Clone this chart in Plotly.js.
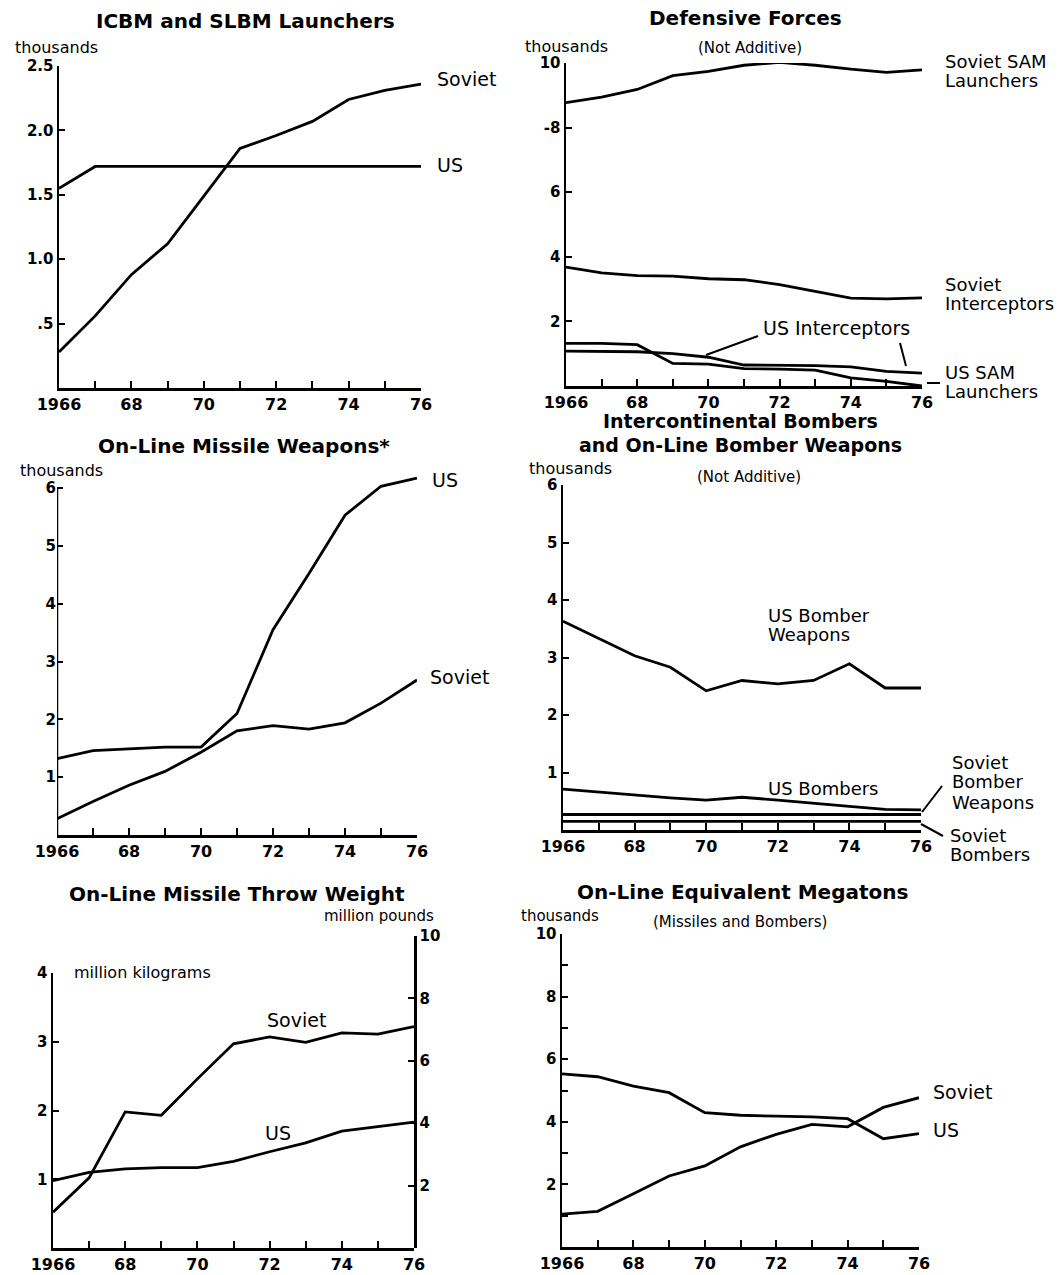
<!DOCTYPE html>
<html>
<head>
<meta charset="utf-8">
<script src="https://cdn.plot.ly/plotly-3.0.1.min.js"></script>
<style>html,body{margin:0;padding:0;background:#fff;}#chart{width:1061px;height:1275px;}</style>
</head>
<body>
<div id="chart"></div>
<script>
// ---------- DATA ----------
const years = [1966, 1967, 1968, 1969, 1970, 1971, 1972, 1973, 1974, 1975, 1976];
const xTickVals = [1966, 1967, 1968, 1969, 1970, 1971, 1972, 1973, 1974, 1975, 1976];
const xTickText = ['1966', '', '68', '', '70', '', '72', '', '74', '', '76'];

// ICBM and SLBM Launchers (thousands)
const launchSoviet = [0.28, 0.56, 0.88, 1.12, 1.49, 1.86, 1.96, 2.07, 2.24, 2.31, 2.36];
const launchUS     = [1.55, 1.72, 1.72, 1.72, 1.72, 1.72, 1.72, 1.72, 1.72, 1.72, 1.72];
const launchTickVals = [0.5, 1.0, 1.5, 2.0, 2.5];
const launchTickText = ['.5', '1.0', '1.5', '2.0', '2.5'];

// Defensive Forces (thousands)
const defSovietSAM  = [8.77, 8.94, 9.18, 9.61, 9.74, 9.93, 10.02, 9.93, 9.81, 9.71, 9.79];
const defSovietInt  = [3.68, 3.50, 3.42, 3.40, 3.32, 3.29, 3.14, 2.93, 2.72, 2.70, 2.73];
const defUSInt      = [1.08, 1.08, 1.06, 1.00, 0.89, 0.65, 0.65, 0.63, 0.59, 0.45, 0.40];
const defUSSAM      = [1.32, 1.32, 1.28, 0.70, 0.68, 0.54, 0.52, 0.49, 0.25, 0.14, 0.00];
const defTickVals = [2, 4, 6, 8, 10];
const defTickText = ['2', '4', '6', '-8', '10'];

// On-Line Missile Weapons (thousands)
const mwUS     = [1.32, 1.46, 1.49, 1.52, 1.52, 2.10, 3.55, 4.52, 5.53, 6.03, 6.17];
const mwSoviet = [0.28, 0.58, 0.86, 1.10, 1.43, 1.80, 1.89, 1.83, 1.94, 2.28, 2.68];
const sixTickVals = [1, 2, 3, 4, 5, 6];
const sixTickText = ['1', '2', '3', '4', '5', '6'];

// Intercontinental Bombers and On-Line Bomber Weapons (thousands)
const bwUS        = [3.63, 3.33, 3.03, 2.83, 2.42, 2.60, 2.54, 2.60, 2.89, 2.47, 2.47];
const bUS         = [0.71, 0.66, 0.60, 0.56, 0.52, 0.57, 0.52, 0.46, 0.41, 0.36, 0.35];
const bwSoviet    = [0.27, 0.27, 0.27, 0.27, 0.27, 0.27, 0.27, 0.27, 0.27, 0.27, 0.27];
const bSoviet     = [0.15, 0.15, 0.15, 0.15, 0.15, 0.15, 0.15, 0.15, 0.15, 0.15, 0.15];

// On-Line Missile Throw Weight (million kilograms)
const twSoviet = [0.52, 1.02, 1.98, 1.93, 2.46, 2.97, 3.07, 2.99, 3.13, 3.11, 3.22];
const twUS     = [0.98, 1.10, 1.15, 1.17, 1.17, 1.26, 1.40, 1.53, 1.70, 1.77, 1.83];
const kgTickVals = [1, 2, 3, 4];
const kgTickText = ['1', '2', '3', '4'];
const lbTickVals = [2, 4, 6, 8, 10];
const lbTickText = ['2', '4', '6', '8', '10'];

// On-Line Equivalent Megatons (thousands)
const emtUS     = [5.53, 5.44, 5.14, 4.93, 4.29, 4.21, 4.18, 4.16, 4.10, 3.46, 3.62];
const emtSoviet = [1.05, 1.14, 1.70, 2.27, 2.59, 3.20, 3.60, 3.92, 3.84, 4.46, 4.77];
const emtTickVals = [1, 2, 3, 4, 5, 6, 7, 8, 9, 10];
const emtTickText = ['', '2', '', '4', '', '6', '', '8', '', '10'];

// ---------- LAYOUT HELPERS ----------
const W = 1061, H = 1275;
const FONT = 'DejaVu Sans, sans-serif';
const px = v => v / W;
const py = v => 1 - v / H;
const LW = 2.8;

function line(x, y, xa, ya) {
  return { x: x, y: y, xaxis: xa, yaxis: ya, type: 'scatter', mode: 'lines',
           line: { color: '#000', width: LW }, cliponaxis: false, hoverinfo: 'skip', showlegend: false };
}

function xAxis(left, right, anchor) {
  return { domain: [px(left), px(right)], range: [1966, 1976], anchor: anchor,
           showline: true, linecolor: '#000', linewidth: 2.5, showgrid: false, zeroline: false,
           ticks: 'inside', ticklen: 7, tickwidth: 2, tickcolor: '#000',
           tickmode: 'array', tickvals: xTickVals, ticktext: xTickText,
           tickfont: { family: FONT, size: 16, color: '#000', weight: 'bold' }, fixedrange: true };
}
function yAxis(bottom, top, range, vals, text, anchor, side) {
  return { domain: [py(bottom), py(top)], range: range, anchor: anchor, side: side || 'left',
           showline: true, linecolor: '#000', linewidth: 2.5, showgrid: false, zeroline: false,
           ticks: 'inside', ticklen: 6, tickwidth: 2, tickcolor: '#000',
           tickmode: 'array', tickvals: vals, ticktext: text,
           tickfont: { family: FONT, size: 15, color: '#000', weight: 'bold' }, fixedrange: true };
}

const annotations = [];
function txt(text, x, y, size, bold, xa) {
  annotations.push({ text: text, x: px(x), y: py(y), xref: 'paper', yref: 'paper',
    xanchor: xa || 'left', yanchor: 'middle', showarrow: false,
    font: { family: FONT, size: size, color: '#000', weight: bold ? 'bold' : 'normal' } });
}
function lines(arr, x, y0, pitch, size, bold, xa) {
  arr.forEach((t, i) => txt(t, x, y0 + i * pitch, size, bold, xa));
}
const shapes = [];
function seg(x0, y0, x1, y1) {
  shapes.push({ type: 'line', xref: 'paper', yref: 'paper', x0: px(x0), y0: py(y0), x1: px(x1), y1: py(y1),
                line: { color: '#000', width: 2 } });
}

// ---------- TRACES ----------
const data = [
  line(years, launchSoviet, 'x', 'y'),
  line(years, launchUS, 'x', 'y'),
  line(years, defSovietSAM, 'x2', 'y2'),
  line(years, defSovietInt, 'x2', 'y2'),
  line(years, defUSInt, 'x2', 'y2'),
  line(years, defUSSAM, 'x2', 'y2'),
  line(years, mwUS, 'x3', 'y3'),
  line(years, mwSoviet, 'x3', 'y3'),
  line(years, bwUS, 'x4', 'y4'),
  line(years, bUS, 'x4', 'y4'),
  line(years, bwSoviet, 'x4', 'y4'),
  line(years, bSoviet, 'x4', 'y4'),
  line(years, twSoviet, 'x5', 'y5'),
  line(years, twUS, 'x5', 'y5'),
  line(years, emtUS, 'x6', 'y6'),
  line(years, emtSoviet, 'x6', 'y6'),
  { x: [1966], y: [0], xaxis: 'x5', yaxis: 'y7', type: 'scatter', mode: 'markers',
    marker: { opacity: 0 }, hoverinfo: 'skip', showlegend: false }
];

// ---------- TEXT ----------
const TT = 20, LB = 18, SM = 16, PITCH = 19;
txt('ICBM and SLBM Launchers', 245, 21, TT, true, 'center');
txt('thousands', 13, 47, SM, false);
txt('Soviet', 435, 79, 19, false);
txt('US', 435, 165, 19, false);

txt('Defensive Forces', 745, 18, TT, true, 'center');
txt('thousands', 523, 46, SM, false);
txt('(Not Additive)', 750, 48, 15, false, 'center');
lines(['Soviet SAM', 'Launchers'], 943, 61, PITCH, LB, false);
lines(['Soviet', 'Interceptors'], 943, 284, PITCH, LB, false);
txt('US Interceptors', 761, 328, 19, false);
lines(['US SAM', 'Launchers'], 943, 373, PITCH, LB, false);
seg(706, 355, 758, 336);
seg(900, 343, 906, 366);
seg(927, 383, 940, 383);

txt('On-Line Missile Weapons*', 244, 446, TT, true, 'center');
txt('thousands', 18, 470, SM, false);
txt('US', 430, 480, 19, false);
txt('Soviet', 428, 677, 19, false);

txt('Intercontinental Bombers', 740, 421, 19, true, 'center');
txt('and On-Line Bomber Weapons', 740, 445, 19, true, 'center');
txt('thousands', 527, 468, SM, false);
txt('(Not Additive)', 749, 477, 15, false, 'center');
lines(['US Bomber', 'Weapons'], 766, 615, PITCH, LB, false);
txt('US Bombers', 766, 789, LB, false);
lines(['Soviet', 'Bomber', 'Weapons'], 950, 762, 20, LB, false);
lines(['Soviet', 'Bombers'], 948, 835, PITCH, LB, false);
seg(922, 812, 942, 786);
seg(921, 824, 943, 836);

txt('On-Line Missile Throw Weight', 237, 894, TT, true, 'center');
txt('million pounds', 322, 916, 15, false);
txt('million kilograms', 72, 972, 16, false);
txt('Soviet', 265, 1020, 19, false);
txt('US', 263, 1133, 19, false);

txt('On-Line Equivalent Megatons', 742, 892, TT, true, 'center');
txt('thousands', 519, 916, 15, false);
txt('(Missiles and Bombers)', 740, 922, 15, false, 'center');
txt('Soviet', 931, 1092, 19, false);
txt('US', 931, 1130, 19, false);

// ---------- LAYOUT ----------
// Missile-weapons panel: the axis line stops at 6 while the US line may rise above it
const y3 = yAxis(835, 835 - 6.3 * (835 - 488) / 6, [0, 6.3], sixTickVals, sixTickText, 'x3');
y3.showline = false;
shapes.push({ type: 'line', xref: 'x3', yref: 'y3', x0: 1966, x1: 1966, y0: 0, y1: 6,
              line: { color: '#000', width: 2.5 } });

const layout = {
  width: W, height: H, margin: { l: 0, r: 0, t: 0, b: 0 },
  paper_bgcolor: '#fff', plot_bgcolor: 'rgba(0,0,0,0)', showlegend: false,
  font: { family: FONT, color: '#000' },
  xaxis:  xAxis(59, 421, 'y'),
  yaxis:  yAxis(388, 66, [0, 2.5], launchTickVals, launchTickText, 'x'),
  xaxis2: xAxis(566, 922, 'y2'),
  yaxis2: yAxis(386, 63, [0, 10], defTickVals, defTickText, 'x2'),
  xaxis3: xAxis(57, 417, 'y3'),
  yaxis3: y3,
  xaxis4: xAxis(563, 921, 'y4'),
  yaxis4: yAxis(830, 485, [0, 6], sixTickVals, sixTickText, 'x4'),
  xaxis5: xAxis(53, 414, 'y5'),
  yaxis5: yAxis(1248, 973, [0, 4], kgTickVals, kgTickText, 'x5'),
  yaxis7: yAxis(1248, 936, [0, 10], lbTickVals, lbTickText, 'x5', 'right'),
  xaxis6: xAxis(562, 919, 'y6'),
  yaxis6: yAxis(1247, 934, [0, 10], emtTickVals, emtTickText, 'x6'),
  annotations: annotations,
  shapes: shapes
};

Plotly.newPlot('chart', data, layout, { staticPlot: true, displayModeBar: false });
</script>
</body>
</html>
